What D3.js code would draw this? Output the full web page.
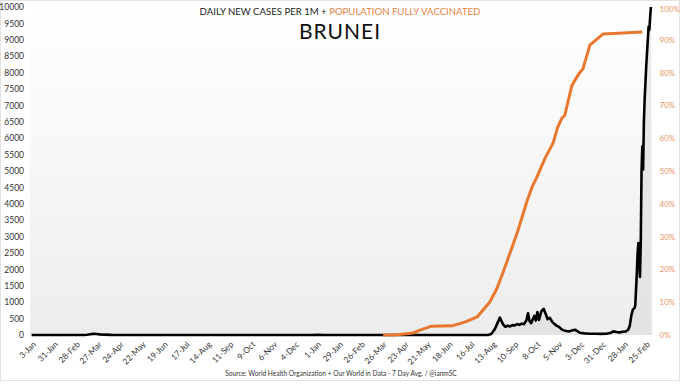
<!DOCTYPE html>
<html><head><meta charset="utf-8">
<script src="https://cdn.jsdelivr.net/npm/d3@7"></script>
<style>
body{margin:0;background:#fff;}
svg{display:block;font-family:Lato,"Open Sans",sans-serif;}
</style></head>
<body>
<svg id="chart" width="680" height="384"></svg>
<script>
// ---- data ----
const tickDates = ["2020-01-03","2020-01-31","2020-02-28","2020-03-27","2020-04-24","2020-05-22","2020-06-19","2020-07-17","2020-08-14","2020-09-11","2020-10-09","2020-11-06","2020-12-04","2021-01-01","2021-01-29","2021-02-26","2021-03-26","2021-04-23","2021-05-21","2021-06-18","2021-07-16","2021-08-13","2021-09-10","2021-10-08","2021-11-05","2021-12-03","2021-12-31","2022-01-28","2022-02-25"];
const leftTicks = [0,500,1000,1500,2000,2500,3000,3500,4000,4500,5000,5500,6000,6500,7000,7500,8000,8500,9000,9500,10000];
const rightTicks = [0,10,20,30,40,50,60,70,80,90,100];

const caseDates = ["2020-01-01","2020-03-08","2020-03-12","2020-03-16","2020-03-20","2020-03-24","2020-03-28","2020-04-03","2020-04-12","2020-04-25","2020-12-25","2021-01-01","2021-01-08","2021-08-06","2021-08-10","2021-08-13","2021-08-16","2021-08-19","2021-08-21","2021-08-23","2021-08-25","2021-08-28","2021-08-31","2021-09-03","2021-09-06","2021-09-09","2021-09-12","2021-09-15","2021-09-18","2021-09-21","2021-09-24","2021-09-26","2021-09-28","2021-09-30","2021-10-02","2021-10-04","2021-10-06","2021-10-08","2021-10-10","2021-10-13","2021-10-16","2021-10-19","2021-10-21","2021-10-24","2021-10-27","2021-10-30","2021-11-02","2021-11-05","2021-11-08","2021-11-11","2021-11-14","2021-11-18","2021-11-21","2021-11-25","2021-11-28","2021-12-01","2021-12-07","2021-12-14","2021-12-21","2021-12-28","2022-01-04","2022-01-09","2022-01-13","2022-01-17","2022-01-21","2022-01-25","2022-01-29","2022-02-01","2022-02-03","2022-02-05","2022-02-07","2022-02-09","2022-02-10","2022-02-11","2022-02-12","2022-02-13","2022-02-14","2022-02-15","2022-02-16","2022-02-17","2022-02-18","2022-02-19","2022-02-20","2022-02-21","2022-02-22","2022-02-23","2022-02-24","2022-02-25","2022-02-26","2022-02-27","2022-02-28","2022-03-01","2022-03-02"];
const caseValues = [0,0,10,25,35,30,20,10,3,0,0,5,0,0,30,120,250,420,530,430,330,250,280,260,300,290,330,310,350,330,450,660,420,360,480,580,440,700,460,720,800,620,480,520,400,330,280,240,170,140,120,110,140,160,120,70,50,40,40,35,40,60,110,90,80,100,110,160,280,600,780,820,900,1400,1900,2500,2800,2300,1770,2800,5000,5750,5050,6500,7200,7700,8200,8600,9000,9400,9300,9700,10000];

const vaxDates = ["2021-03-25","2021-04-09","2021-05-02","2021-05-11","2021-05-26","2021-06-21","2021-07-08","2021-07-23","2021-08-08","2021-08-17","2021-08-25","2021-09-03","2021-09-12","2021-09-25","2021-10-01","2021-10-07","2021-10-18","2021-10-28","2021-11-03","2021-11-08","2021-11-12","2021-11-21","2021-11-25","2021-12-01","2021-12-05","2021-12-14","2021-12-31","2022-02-19"];
const vaxValues = [0,0,0.6,1.5,2.7,2.8,4,5.5,10,14,19,25,31,41,45,48,54,58.5,63.4,66,67,76,77.7,80,81,88.4,91.8,92.4];

// ---- drawing ----
const parse = d3.timeParse("%Y-%m-%d");
const svg = d3.select("#chart");
const W = 680, H = 384;
const L = 30, R = 652.5, T = 7, B = 335;

const x = d3.scaleTime().domain([parse("2019-12-30"), parse("2022-03-04")]).range([L, R]);
const yL = d3.scaleLinear().domain([0, 10000]).range([B, T]);
const yR = d3.scaleLinear().domain([0, 100]).range([B, T]);

// card border
svg.append("rect").attr("x",0.5).attr("y",0.5).attr("width",W-1).attr("height",380)
  .attr("fill","#fff").attr("stroke","#e2e2e2");

// plot background gradient
const defs = svg.append("defs");
const g1 = defs.append("linearGradient").attr("id","bg").attr("x1",0).attr("y1",0).attr("x2",0).attr("y2",1);
g1.append("stop").attr("offset","0%").attr("stop-color","#ffffff");
g1.append("stop").attr("offset","100%").attr("stop-color","#ededed");
svg.append("rect").attr("x",L).attr("y",T).attr("width",R-L).attr("height",B-T).attr("fill","url(#bg)");

const cases = caseDates.map((d,i)=>({d:parse(d), v:caseValues[i]}));
const vax = vaxDates.map((d,i)=>({d:parse(d), v:vaxValues[i]}));

svg.append("path").datum(cases)
  .attr("d", d3.area().x(p=>x(p.d)).y0(B).y1(p=>yL(p.v)))
  .attr("fill","#dcdcdc").attr("opacity",0.6);

svg.append("path").datum(cases)
  .attr("d", d3.line().x(p=>x(p.d)).y(p=>yL(p.v)))
  .attr("fill","none").attr("stroke","#000").attr("stroke-width",2.6).attr("stroke-linejoin","round");

svg.append("path").datum(vax)
  .attr("d", d3.line().x(p=>x(p.d)).y(p=>yR(p.v)))
  .attr("fill","none").attr("stroke","#E8782F").attr("stroke-width",3).attr("stroke-linejoin","round");

// left axis
const la = svg.append("g").attr("transform",`translate(${L},0)`)
  .call(d3.axisLeft(yL).tickValues(leftTicks).tickSize(0).tickPadding(6).tickFormat(d3.format("d")));
la.select(".domain").remove();
la.selectAll("text").attr("font-size",8.5).attr("fill","#333").attr("font-family","Lato,sans-serif");

// right axis
const ra = svg.append("g").attr("transform",`translate(${R},0)`)
  .call(d3.axisRight(yR).tickValues(rightTicks).tickSize(0).tickPadding(7).tickFormat(d=>d+"%"));
ra.select(".domain").remove();
ra.selectAll("text").attr("font-size",8).attr("fill","#E99561").attr("font-family","Lato,sans-serif");
ra.selectAll(".tick").filter(d=>d===100).select("text").attr("dy","0.6em");

// bottom axis
const ba = svg.append("g").attr("transform",`translate(0,${B})`)
  .call(d3.axisBottom(x).tickValues(tickDates.map(parse)).tickSize(0).tickFormat(d3.timeFormat("%-d-%b")));
ba.select(".domain").remove();
ba.selectAll("text").attr("font-size",8.3).attr("fill","#333").attr("font-family","Lato,sans-serif")
  .attr("text-anchor","end").attr("dy",0).attr("y",0)
  .attr("transform","translate(3,10) rotate(-45)");

// titles
const t1 = svg.append("text").attr("x",340).attr("y",15).attr("text-anchor","middle")
  .attr("font-size",9.6).attr("font-family","Lato,sans-serif");
t1.append("tspan").attr("fill","#222").text("DAILY NEW CASES PER 1M + ");
t1.append("tspan").attr("fill","#E8843F").text("POPULATION FULLY VACCINATED");

svg.append("text").attr("x",340).attr("y",39).attr("text-anchor","middle")
  .attr("font-size",21).attr("font-family","Lato,sans-serif").attr("fill","#111").attr("letter-spacing",1)
  .text("BRUNEI");

svg.append("text").attr("x",341).attr("y",376).attr("text-anchor","middle")
  .attr("font-size",6.6).attr("font-family","Lato,sans-serif").attr("fill","#333")
  .text("Source: World Health Organization + Our World in Data - 7 Day Avg. / @ianmSC");
</script>
</body></html>
